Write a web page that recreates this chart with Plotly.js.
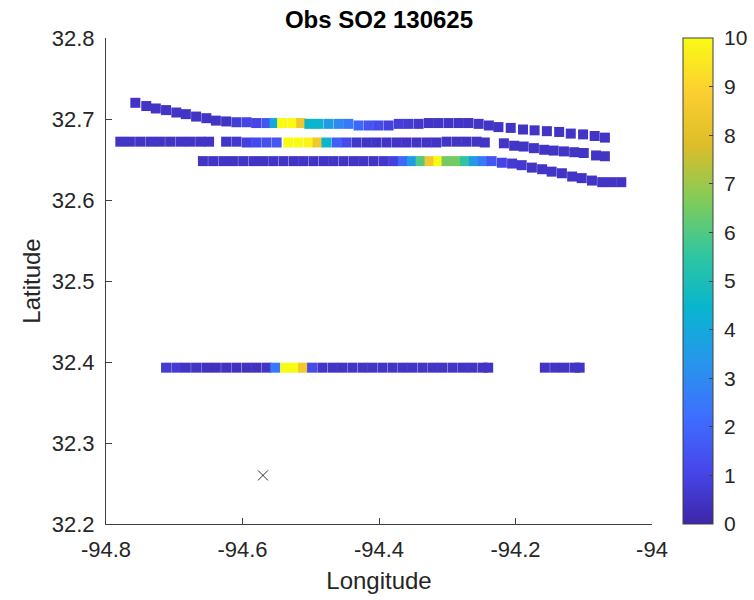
<!DOCTYPE html>
<html>
<head>
<meta charset="utf-8">
<script src="https://cdn.plot.ly/plotly-3.0.1.min.js"></script>
<style>html,body{margin:0;padding:0;background:#fff;}#chart{width:754px;height:600px;}</style>
</head>
<body>
<div id="chart"></div>
<script>
// Track 1 (northernmost pass)
const lonA = [-94.757,-94.741,-94.727,-94.712,-94.697,-94.683,-94.668,-94.653,-94.639,-94.624,-94.609,-94.594,-94.580,-94.565,-94.553,-94.542,-94.527,-94.514,-94.502,-94.489,-94.474,-94.459,-94.445,-94.430,-94.415,-94.401,-94.386,-94.371,-94.357,-94.342,-94.327,-94.313,-94.298,-94.283,-94.269,-94.254,-94.239,-94.225,-94.207,-94.189,-94.172,-94.154,-94.136,-94.119,-94.101,-94.084,-94.069];
const latA = [32.720,32.716,32.713,32.711,32.708,32.706,32.703,32.701,32.698,32.697,32.696,32.696,32.695,32.695,32.695,32.695,32.695,32.695,32.694,32.694,32.694,32.694,32.694,32.692,32.692,32.692,32.692,32.694,32.694,32.694,32.695,32.695,32.695,32.695,32.695,32.694,32.692,32.690,32.689,32.687,32.686,32.685,32.684,32.682,32.681,32.679,32.677];
const so2A = [0.5,0.5,0.5,0.5,0.5,0.5,0.5,0.5,0.5,0.5,0.8,1.0,1.0,1.5,4,10,10,8.5,4.5,4.5,3.5,3,2.5,2,1.5,1.2,0.9,0.8,0.7,0.6,0.5,0.5,0.5,0.5,0.5,0.5,0.5,0.5,0.5,0.5,0.5,0.5,0.5,0.5,0.5,0.5,0.5];

// Track 2
const lonB = [-94.779,-94.765,-94.750,-94.735,-94.721,-94.706,-94.691,-94.677,-94.662,-94.649,-94.624,-94.609,-94.594,-94.580,-94.565,-94.550,-94.533,-94.518,-94.503,-94.490,-94.477,-94.462,-94.448,-94.433,-94.418,-94.404,-94.389,-94.374,-94.360,-94.345,-94.330,-94.316,-94.301,-94.286,-94.272,-94.257,-94.245,-94.217,-94.202,-94.188,-94.173,-94.158,-94.144,-94.129,-94.114,-94.100,-94.082,-94.069];
const latB = [32.672,32.672,32.672,32.672,32.672,32.672,32.672,32.672,32.672,32.672,32.672,32.672,32.671,32.671,32.671,32.671,32.671,32.671,32.671,32.671,32.671,32.671,32.671,32.671,32.671,32.671,32.671,32.671,32.671,32.671,32.671,32.671,32.672,32.672,32.672,32.672,32.671,32.670,32.667,32.666,32.664,32.662,32.661,32.660,32.659,32.658,32.655,32.654];
const so2B = [0.5,0.5,0.5,0.5,0.5,0.5,0.5,0.5,0.5,0.5,0.5,0.6,0.9,1.2,1.3,1.5,10,10,9.8,8.5,4.5,1.8,1.2,0.6,0.5,0.5,0.5,0.5,0.5,0.5,0.5,0.5,0.5,0.5,0.5,0.5,0.5,0.5,0.5,0.5,0.5,0.5,0.5,0.5,0.5,0.5,0.5,0.5];

// Track 3
const lonC = [-94.658,-94.643,-94.628,-94.614,-94.599,-94.584,-94.570,-94.555,-94.540,-94.525,-94.511,-94.496,-94.481,-94.467,-94.452,-94.437,-94.423,-94.408,-94.393,-94.379,-94.365,-94.352,-94.339,-94.326,-94.313,-94.301,-94.288,-94.274,-94.261,-94.248,-94.235,-94.220,-94.205,-94.191,-94.176,-94.161,-94.147,-94.132,-94.117,-94.103,-94.088,-94.073,-94.059,-94.045];
const latC = [32.648,32.648,32.648,32.648,32.648,32.648,32.648,32.648,32.648,32.648,32.648,32.648,32.648,32.648,32.648,32.648,32.648,32.648,32.648,32.648,32.648,32.648,32.648,32.648,32.648,32.648,32.648,32.648,32.648,32.648,32.648,32.646,32.645,32.643,32.640,32.638,32.635,32.633,32.629,32.627,32.624,32.622,32.622,32.622];
const so2C = [0.5,0.5,0.5,0.5,0.5,0.5,0.5,0.5,0.5,0.5,0.5,0.5,0.5,0.5,0.5,0.5,0.5,0.5,0.6,0.9,2,3.5,6,8.5,10,6.5,6.5,5.5,3.5,2.5,1.5,1.0,0.7,0.6,0.5,0.5,0.5,0.5,0.5,0.5,0.5,0.5,0.5,0.5];

// Track 4 (southern pass)
const lonD = [-94.712,-94.697,-94.683,-94.668,-94.653,-94.639,-94.624,-94.609,-94.594,-94.580,-94.565,-94.552,-94.537,-94.523,-94.511,-94.498,-94.483,-94.468,-94.454,-94.439,-94.424,-94.410,-94.395,-94.380,-94.365,-94.351,-94.336,-94.321,-94.307,-94.292,-94.277,-94.263,-94.248,-94.240,-94.157,-94.142,-94.128,-94.113,-94.106];
const latD = [32.393,32.393,32.393,32.393,32.393,32.393,32.393,32.393,32.393,32.393,32.393,32.393,32.393,32.393,32.393,32.393,32.393,32.393,32.393,32.393,32.393,32.393,32.393,32.393,32.393,32.393,32.393,32.393,32.393,32.393,32.393,32.393,32.393,32.393,32.393,32.393,32.393,32.393,32.393];
const so2D = [0.7,0.7,0.5,0.5,0.4,0.4,0.4,0.4,0.4,0.4,0.5,2.5,10,10,8.5,1.2,0.5,0.5,0.5,0.5,0.5,0.5,0.5,0.5,0.5,0.5,0.5,0.5,0.5,0.5,0.5,0.5,0.5,0.5,0.5,0.5,0.5,0.5,0.5];

// Site marker
const siteLon = [-94.57];
const siteLat = [32.26];

// Axis ticks
const xTickVals = [-94.8,-94.6,-94.4,-94.2,-94];
const xTickText = ['-94.8','-94.6','-94.4','-94.2','-94'];
const yTickVals = [32.2,32.3,32.4,32.5,32.6,32.7,32.8];
const yTickText = ['32.2','32.3','32.4','32.5','32.6','32.7','32.8'];
const cTickVals = [0,1,2,3,4,5,6,7,8,9,10];
const cTickText = ['0','1','2','3','4','5','6','7','8','9','10'];

// parula colormap samples
const parula = [
  [0/9,'rgb(62,38,168)'],
  [1/9,'rgb(71,71,235)'],
  [2/9,'rgb(62,111,255)'],
  [3/9,'rgb(39,150,235)'],
  [4/9,'rgb(8,181,208)'],
  [5/9,'rgb(49,198,159)'],
  [6/9,'rgb(129,204,89)'],
  [7/9,'rgb(220,189,41)'],
  [8/9,'rgb(252,207,48)'],
  [9/9,'rgb(249,251,21)']
];

const lon = lonA.concat(lonB, lonC, lonD);
const lat = latA.concat(latB, latC, latD);
const so2 = so2A.concat(so2B, so2C, so2D);

const font = 'Liberation Sans, Arial, Helvetica, sans-serif';
const ink = '#262626';

const traces = [
  {
    type: 'scatter', mode: 'markers', x: lon, y: lat,
    marker: {
      symbol: 'square', size: 10, color: so2, cmin: 0, cmax: 10,
      colorscale: parula, line: {width: 0},
      colorbar: {
        x: 1.0568, xanchor: 'left', xref: 'paper', y: 0.5, yanchor: 'middle',
        len: 1, lenmode: 'fraction', thickness: 30, thicknessmode: 'pixels',
        xpad: 0, ypad: 0, outlinecolor: '#404040', outlinewidth: 1,
        tickvals: cTickVals, ticktext: cTickText.map(t => '\u00a0' + t),
        ticks: 'inside', ticklen: 4, tickcolor: '#404040',
        tickfont: {family: font, size: 21, color: ink}
      }
    },
    showlegend: false, hoverinfo: 'skip'
  },
  {
    type: 'scatter', mode: 'markers', x: siteLon, y: siteLat,
    marker: {symbol: 'x-thin-open', size: 10, color: '#333', line: {width: 1, color: '#333'}},
    showlegend: false, hoverinfo: 'skip'
  }
];

const layout = {
  width: 754, height: 600,
  margin: {l: 106, r: 102, t: 38, b: 76, pad: 0, autoexpand: false},
  paper_bgcolor: '#fff', plot_bgcolor: '#fff',
  font: {family: font, color: ink},
  title: {text: '<b>Obs SO2 130625</b>', font: {family: font, size: 24, color: '#000'},
          x: 0.5, xref: 'paper', xanchor: 'center', y: 0.968, yref: 'container', yanchor: 'middle'},
  xaxis: {
    range: [-94.8, -94], tickvals: xTickVals, ticktext: xTickText,
    ticks: 'inside', ticklen: 6, tickcolor: '#404040',
    showline: true, linecolor: '#404040', linewidth: 1, mirror: false,
    showgrid: false, zeroline: false, ticklabelstandoff: 6, automargin: false,
    tickfont: {family: font, size: 22, color: ink},
    title: {text: 'Longitude', font: {family: font, size: 24, color: ink}, standoff: 10}
  },
  yaxis: {
    range: [32.2, 32.8], tickvals: yTickVals, ticktext: yTickText,
    ticks: 'inside', ticklen: 6, tickcolor: '#404040',
    showline: true, linecolor: '#404040', linewidth: 1, mirror: false,
    showgrid: false, zeroline: false, ticklabelstandoff: 6, automargin: false,
    tickfont: {family: font, size: 22, color: ink},
    title: {text: 'Latitude', font: {family: font, size: 24, color: ink}, standoff: 4}
  }
};

Plotly.newPlot('chart', traces, layout, {displayModeBar: false, staticPlot: true});
</script>
</body>
</html>
